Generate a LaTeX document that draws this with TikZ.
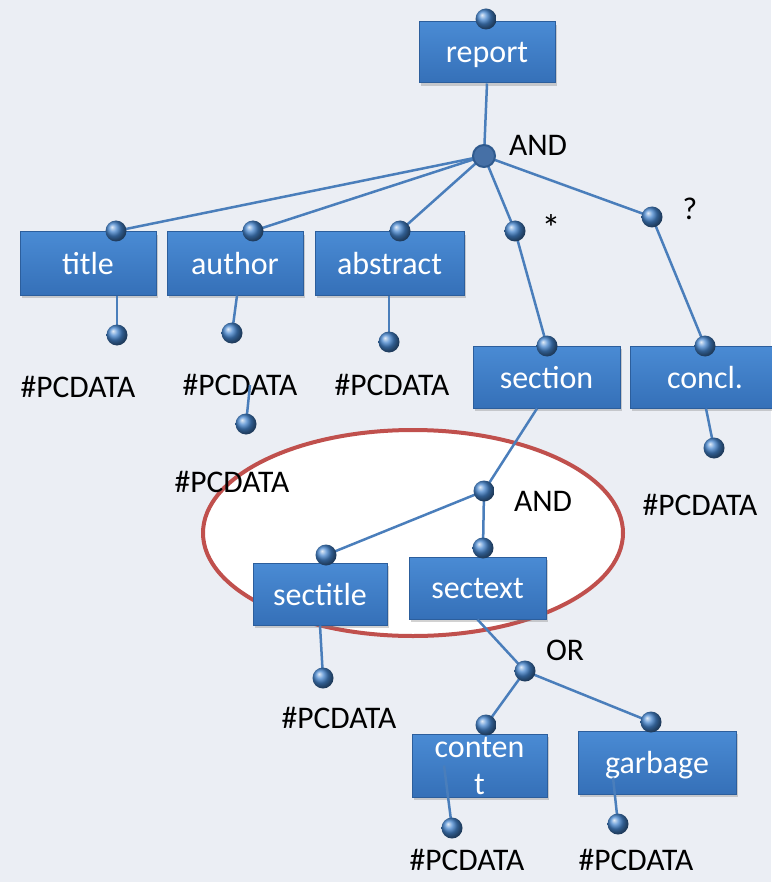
\documentclass[tikz,border=0pt]{standalone}
\usepackage{fontspec}
\newfontfamily\calfont{Carlito}
\usetikzlibrary{shadows}
\pgfdeclarelayer{bg}
\pgfdeclarelayer{lines}
\pgfdeclarelayer{fore}
\pgfsetlayers{bg,main,lines,fore}
\definecolor{bgc}{HTML}{EBEEF4}
\definecolor{boxtop}{HTML}{4A8BD4}
\definecolor{boxbot}{HTML}{3570B8}
\definecolor{boxedge}{HTML}{2C5E9C}
\definecolor{ballc}{HTML}{4585CE}
\definecolor{linec}{HTML}{4A7EBB}
\definecolor{ellc}{HTML}{C0504D}
\definecolor{andc}{HTML}{4670A6}
\definecolor{andedge}{HTML}{2F5A8E}
\tikzset{
  elem/.style={rectangle, inner sep=0pt, top color=boxtop, bottom color=boxbot,
    draw=boxedge, line width=1pt, text=white,
    font=\calfont\fontsize{32}{37}\selectfont, align=center,
    drop shadow={shadow xshift=2pt, shadow yshift=-3pt, opacity=0.35}},
  ball/.style={circle, inner sep=0pt, minimum size=21pt, shading=ball, ball color=ballc},
  junc/.style={circle, inner sep=0pt, minimum size=22pt, fill=andc, draw=andedge, line width=2pt},
  lbl/.style={inner sep=0pt, text=black, font=\calfont\fontsize{31.5}{36}\selectfont},
  conn/.style={draw=linec, line width=2.5pt},
}
\begin{document}
\begin{tikzpicture}[x=1pt, y=-1pt]
\useasboundingbox (0,0) rectangle (771,882);
\begin{pgfonlayer}{bg}
\fill[bgc] (0,0) rectangle (771,882);
\filldraw[fill=white, draw=ellc, line width=4pt] (413,533) ellipse [x radius=210pt, y radius=103pt];
\end{pgfonlayer}
% boxes
\node[elem, minimum width=136pt, minimum height=61pt, text depth=-4pt] (report) at (487,52.5) {report};
\node[elem, minimum width=136pt, minimum height=63pt, text depth=-4pt] (title) at (88,263.5) {title};
\node[elem, minimum width=136pt, minimum height=63pt, text depth=-4pt] (author) at (235,263.5) {author};
\node[elem, minimum width=149pt, minimum height=63pt, text depth=-4pt] (abstract) at (389.5,263.5) {abstract};
\node[elem, minimum width=147pt, minimum height=62pt, text depth=-4pt] (section) at (546.5,377) {section};
\node[elem, minimum width=150pt, minimum height=62pt, text depth=-4pt] (concl) at (705,377) {concl.};
\node[elem, minimum width=134pt, minimum height=62pt, text depth=-4pt] (sectitle) at (320,594) {sectitle};
\node[elem, minimum width=137pt, minimum height=62pt, text depth=-4pt] (sectext) at (477.5,588) {sectext};
\node[elem, minimum width=135pt, minimum height=63pt] (content) at (479.5,765.5) {conten\\t};
\node[elem, minimum width=158pt, minimum height=63pt, text depth=-4pt] (garbage) at (657,762.5) {garbage};
% balls
\begin{pgfonlayer}{fore}
\node[ball] (reportb) at (486,19) {};
\node[junc] (and1) at (484,156) {};
\node[ball] (titleb) at (116,231) {};
\node[ball] (authorb) at (253,231) {};
\node[ball] (abstractb) at (400,231) {};
\node[ball] (star) at (515,231) {};
\node[ball] (opt) at (652,217) {};
\node[ball] (sectionb) at (547,346) {};
\node[ball] (conclb) at (705,346) {};
\node[ball] (titlel) at (117,335) {};
\node[ball] (authorl) at (232,333) {};
\node[ball] (authorl2) at (246,424) {};
\node[ball] (abstractl) at (389,342) {};
\node[ball] (concll) at (714,448) {};
\node[ball] (and2) at (484,491) {};
\node[ball] (sectitleb) at (326,555) {};
\node[ball] (sectextb) at (483,548) {};
\node[ball] (sectitlel) at (323,678) {};
\node[ball] (or) at (525,671) {};
\node[ball] (contentb) at (486,725) {};
\node[ball] (garbageb) at (651,722) {};
\node[ball] (contentl) at (452,828) {};
\node[ball] (garbagel) at (618,824) {};
\end{pgfonlayer}
% labels
\node[lbl] (andlbl1) at (538,145) {AND};
\node[lbl, font=\calfont\fontsize{38}{40}\selectfont] (starlbl) at (551,228) {*};
\node[lbl] (optlbl) at (690,209) {?};
\node[lbl] (andlbl2) at (543,501) {AND};
\node[lbl] (orlbl) at (565,650) {OR};
\node[lbl] (pc1) at (78,387) {\#PCDATA};
\node[lbl] (pc2) at (240,385) {\#PCDATA};
\node[lbl] (pc3) at (392,385) {\#PCDATA};
\node[lbl] (pc4) at (232,482) {\#PCDATA};
\node[lbl] (pc5) at (700,505) {\#PCDATA};
\node[lbl] (pc6) at (339,718) {\#PCDATA};
\node[lbl] (pc7) at (467,860) {\#PCDATA};
\node[lbl] (pc8) at (636,860) {\#PCDATA};
% connectors
\begin{pgfonlayer}{lines}
\path[conn] (report.south) -- (and1.center);
\path[conn] (and1.center) -- (titleb.center);
\path[conn] (and1.center) -- (authorb.center);
\path[conn] (and1.center) -- (abstractb.center);
\path[conn] (and1.center) -- (star.center);
\path[conn] (and1.center) -- (opt.center);
\path[conn] (star.center) -- (sectionb.center);
\path[conn] (opt.center) -- (conclb.center);
\path[conn] (title.south -| titlel) -- (titlel.center);
\path[conn] ([xshift=2pt]author.south) -- (authorl.center);
\path[conn] ([xshift=10pt]pc2.center) -- (authorl2.center);
\path[conn] (abstract.south -| abstractl) -- (abstractl.center);
\path[conn] ([xshift=1pt]concl.south) -- (concll.center);
\path[conn] ([xshift=-9.5pt]section.south) -- (and2.center);
\path[conn] (and2.center) -- (sectitleb.center);
\path[conn] (and2.center) -- (sectextb.center);
\path[conn] (sectitle.south) -- (sectitlel.center);
\path[conn] (sectext.south) -- (or.center);
\path[conn] (or.center) -- (contentb.center);
\path[conn] (or.center) -- (garbageb.center);
\path[conn] ([xshift=-35.5pt]content.center) -- (contentl.center);
\path[conn] ([xshift=-44pt, yshift=-15pt]garbage.center) -- (garbagel.center);
\end{pgfonlayer}
\end{tikzpicture}
\end{document}
